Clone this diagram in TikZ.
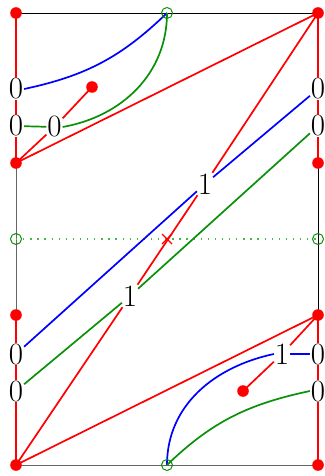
\documentclass[tikz,border=0pt]{standalone}
\definecolor{myred}{RGB}{255,0,0}
\definecolor{myblue}{RGB}{0,0,255}
\definecolor{mygreen}{RGB}{10,145,10}
\definecolor{dotgreen}{RGB}{70,185,70}
\begin{document}
\begin{tikzpicture}[x=1pt,y=-1pt,
  lbl/.style={inner sep=0.8pt, font=\fontsize{31}{31}\selectfont},
  side/.style={myred, line width=2.6pt},
  ln/.style={line width=1.7pt},
  frame/.style={line width=0.9pt},
]
\useasboundingbox (0,0) rectangle (324,476);
% corner and side points
\coordinate (TL) at (16,13);
\coordinate (TR) at (318,13);
\coordinate (BL) at (16,465);
\coordinate (BR) at (318,465);
\coordinate (LA) at (16,163);
\coordinate (LB) at (16,315);
\coordinate (RA) at (318,163);
\coordinate (RB) at (318,315);
\coordinate (PA) at (92,87);
\coordinate (PB) at (243,391);
\coordinate (C) at (167,239);
\coordinate (GT) at (167,13);
\coordinate (GB) at (167,465);
\coordinate (GL) at (16,239);
\coordinate (GR) at (318,239);
% labels
\node[lbl] (L1) at (16,89) {0};
\node[lbl] (L2) at (16,126) {0};
\node[lbl] (I0) at (54.5,127) {0};
\node[lbl] (R1) at (318,89) {0};
\node[lbl] (R2) at (318,126) {0};
\node[lbl] (B1) at (16,354) {0};
\node[lbl] (B2) at (16,391) {0};
\node[lbl] (R3) at (318,354) {0};
\node[lbl] (R4) at (318,391) {0};
\node[lbl] (N1) at (205,184) {1};
\node[lbl] (N2) at (130,296) {1};
\node[lbl] (N3) at (282,354) {1};
% frame
\draw[frame, black] (TL) -- (TR);
\draw[frame, black] (RA) -- (RB);
\draw[frame, black!60] (LA) -- (LB);
\draw[frame, black!60] (BL) -- (BR);
\draw[dotgreen, line width=1.3pt, dash pattern=on 1.3pt off 5.8pt] (GL) -- (GR);
% thick red sides
\draw[side] (TL) -- (L1);
\draw[side] (L1) -- (L2);
\draw[side] (L2) -- (LA);
\draw[side] (LB) -- (B1);
\draw[side] (B1) -- (B2);
\draw[side] (B2) -- (BL);
\draw[side] (TR) -- (R1);
\draw[side] (R1) -- (R2);
\draw[side] (R2) -- (RA);
\draw[side] (RB) -- (R3);
\draw[side] (R3) -- (R4);
\draw[side] (R4) -- (BR);
% red interior
\draw[ln, myred] (LA) -- (I0);
\draw[ln, myred] (I0) -- (PA);
\draw[ln, myred] (LA) -- (TR);
\draw[ln, myred] (TR) -- (N1);
\draw[ln, myred] (N1) -- (N2);
\draw[ln, myred] (N2) -- (BL);
\draw[ln, myred] (BL) -- (RB);
\draw[ln, myred] (RB) -- (N3);
\draw[ln, myred] (N3) -- (PB);
% blue
\draw[ln, myblue] (R1) -- (N1);
\draw[ln, myblue] (N1) -- (B1);
\draw[ln, myblue] (L1.east) to[out=12, in=-136] (GT);
\draw[ln, myblue] (N3) -- (R3);
\draw[ln, myblue] (N3.west) to[out=192, in=90] (GB);
% green
\draw[ln, mygreen] (L2) -- (I0);
\draw[ln, mygreen] (I0.east) to[out=10, in=-90] (GT);
\draw[ln, mygreen] (R2) -- (N2);
\draw[ln, mygreen] (N2) -- (B2);
\draw[ln, mygreen] (R4.west) to[out=192, in=44] (GB);
% centre cross
\draw[myred, line width=1.3pt] ([shift={(-5,-5)}]C) -- ([shift={(5,5)}]C);
\draw[myred, line width=1.3pt] ([shift={(-5,5)}]C) -- ([shift={(5,-5)}]C);
% red dots
\foreach \p in {TL,TR,BL,BR,LA,LB,RA,RB,PA,PB}
  \fill[myred] (\p) circle[radius=5.8pt];
% green open circles
\foreach \p in {GT,GB,GL,GR}
  \draw[mygreen, line width=1pt] (\p) circle[radius=5.5pt];
\end{tikzpicture}
\end{document}
